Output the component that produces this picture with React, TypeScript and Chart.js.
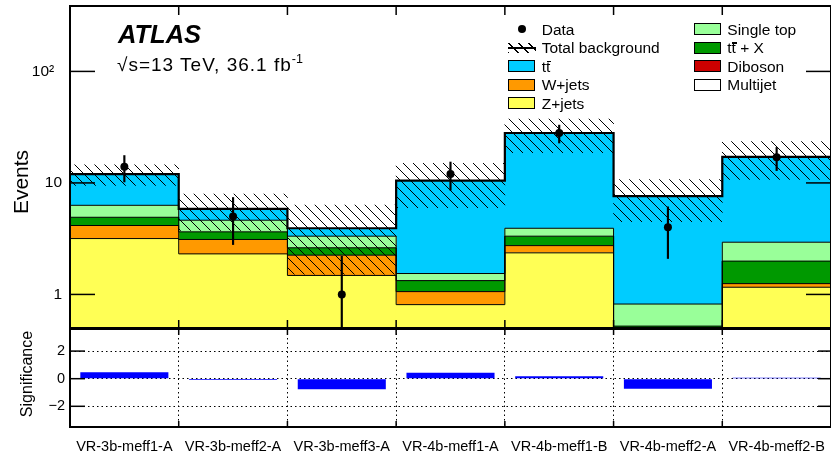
import React, { useEffect, useRef } from "react";
import { Chart, registerables } from "chart.js";

Chart.register(...registerables);

const FONT = '"Liberation Sans", Arial, Helvetica, sans-serif';
Chart.defaults.font.family = FONT;
Chart.defaults.color = "#000";

// ---------------- data ----------------
const REGIONS = [
  "VR-3b-meff1-A",
  "VR-3b-meff2-A",
  "VR-3b-meff3-A",
  "VR-4b-meff1-A",
  "VR-4b-meff1-B",
  "VR-4b-meff2-A",
  "VR-4b-meff2-B",
];

const DATA = [14, 5, 1, 12, 28, 4, 17];
const DATA_ERR_UP = [3.6, 2.4, 1.2, 3.4, 5.0, 2.1, 3.8];
const DATA_ERR_DOWN = [3.8, 2.2, 0.99, 3.4, 5.2, 1.9, 4.1];

// background contributions (stacked bottom -> top)
const MULTIJET = [0, 0, 0, 0, 0, 0, 0];
const ZJETS = [3.17, 2.31, 1.48, 0.81, 2.36, 0.45, 1.16];
const WJETS = [0.96, 0.79, 0.76, 0.24, 0.37, 0.03, 0.08];
const DIBOSON = [0.02, 0.01, 0.01, 0.01, 0.01, 0.0, 0.01];
const TTX = [0.77, 0.53, 0.37, 0.27, 0.59, 0.04, 0.74];
const SINGLE_TOP = [1.38, 0.99, 0.71, 0.21, 0.59, 0.3, 0.95];
const TTBAR = [5.7, 1.22, 0.59, 8.96, 24.1, 6.78, 14.2];

// total background uncertainty (symmetric)
const BKG_UNC = [2.5, 2.1, 2.4, 4.5, 9.3, 3.1, 6.4];

const SIGNIFICANCE = [0.46, -0.09, -0.77, 0.43, 0.17, -0.72, 0.07];

const Y_MAJOR_TICKS = [1, 10, 100];
const Y_MAJOR_LABELS = ["1", "10", "10\u00B2\u2002"];
const SIG_TICKS = [-2, 0, 2];
const SIG_TICK_LABELS = ["\u22122", "0", "2"];

const Y_MIN = 0.5;
const Y_MAX = 386;

// ---------------- styles ----------------
const COLORS = {
  multijet: "#ffffff",
  zjets: "#ffff55",
  wjets: "#ff9900",
  diboson: "#cc0000",
  ttx: "#009900",
  singletop: "#99ff99",
  ttbar: "#00ccff",
};

const LAYERS = [
  { label: "Multijet", data: MULTIJET, color: COLORS.multijet, contour: false },
  { label: "Z+jets", data: ZJETS, color: COLORS.zjets, contour: true },
  { label: "W+jets", data: WJETS, color: COLORS.wjets, contour: false },
  { label: "Diboson", data: DIBOSON, color: COLORS.diboson, contour: true },
  { label: "ttbar+X", data: TTX, color: COLORS.ttx, contour: true },
  { label: "Single top", data: SINGLE_TOP, color: COLORS.singletop, contour: true },
  { label: "ttbar", data: TTBAR, color: COLORS.ttbar, contour: false },
];

function makeHatch(): CanvasPattern | string {
  const c = document.createElement("canvas");
  c.width = 10;
  c.height = 10;
  const g = c.getContext("2d");
  if (!g) return "rgba(0,0,0,0.3)";
  g.strokeStyle = "#000";
  g.lineWidth = 1;
  g.beginPath();
  g.moveTo(-2, -2);
  g.lineTo(12, 12);
  g.moveTo(-2, 8);
  g.lineTo(2, 12);
  g.moveTo(8, -2);
  g.lineTo(12, 2);
  g.stroke();
  return g.createPattern(c, "repeat") || "rgba(0,0,0,0.3)";
}

function isIntMantissa(v: number) {
  if (v <= 0) return false;
  const e = Math.floor(Math.log10(v) + 1e-9);
  const m = v / Math.pow(10, e);
  return Math.abs(m - Math.round(m)) < 1e-6;
}
function isPow10(v: number) {
  const l = Math.log10(v);
  return Math.abs(l - Math.round(l)) < 1e-6;
}

function seg(ctx: CanvasRenderingContext2D, x1: number, y1: number, x2: number, y2: number) {
  ctx.beginPath();
  ctx.moveTo(x1, y1);
  ctx.lineTo(x2, y2);
  ctx.stroke();
}

const topFramePlugin = {
  id: "topFrame",
  afterDraw(chart: any) {
    const { ctx, chartArea: a, scales } = chart;
    const ys = scales.y;
    const xl = scales.xl;
    ctx.save();
    ctx.strokeStyle = "#000";
    ctx.lineWidth = 1.5;
    for (const t of ys.ticks) {
      const v = t.value;
      if (!isIntMantissa(v)) continue;
      const p = ys.getPixelForValue(v);
      if (p < a.top + 1 || p > a.bottom - 0.5) continue;
      const major = isPow10(v);
      seg(ctx, a.left, p, a.left + (major ? 25 : 12), p);
      seg(ctx, a.right, p, a.right - (major ? 25 : 12), p);
    }
    for (let i = 1; i < REGIONS.length; i++) {
      const px = xl.getPixelForValue(i);
      seg(ctx, px, a.top, px, a.top + 9);
      seg(ctx, px, a.bottom, px, a.bottom - 8);
    }
    ctx.lineWidth = 2;
    ctx.strokeRect(a.left, a.top, a.right - a.left, a.bottom - a.top);
    ctx.restore();
  },
};

const bottomFramePlugin = {
  id: "bottomFrame",
  afterDraw(chart: any) {
    const { ctx, chartArea: a, scales } = chart;
    const ys = scales.y;
    const xs = scales.x;
    ctx.save();
    ctx.strokeStyle = "#000";
    ctx.lineWidth = 1.5;
    for (const v of SIG_TICKS) {
      const p = ys.getPixelForValue(v);
      seg(ctx, a.left, p, a.left + 15, p);
      seg(ctx, a.right, p, a.right - 13, p);
    }
    const w = (a.right - a.left) / REGIONS.length;
    for (let i = 0; i < REGIONS.length - 1; i++) {
      const px = xs.getPixelForValue(i) + w / 2;
      seg(ctx, px, a.top, px, a.top + 6);
      seg(ctx, px, a.bottom, px, a.bottom - 6);
    }
    ctx.lineWidth = 2;
    ctx.strokeRect(a.left, a.top, a.right - a.left, a.bottom - a.top);
    ctx.restore();
  },
};

const fixVertical = (s: any) => {
  s.width = 70;
  s.paddingTop = 0;
  s.paddingBottom = 0;
};

function TBar() {
  return (
    <span style={{ position: "relative", display: "inline-block" }}>
      t
      <span
        style={{
          position: "absolute",
          left: 0.5,
          width: 4.5,
          top: 2,
          height: 1.4,
          background: "#000",
        }}
      />
    </span>
  );
}

export default function App() {
  const topRef = useRef<HTMLCanvasElement>(null);
  const botRef = useRef<HTMLCanvasElement>(null);

  useEffect(() => {
    if (!topRef.current || !botRef.current) return;
    const hatch = makeHatch();

    // cumulative sums for contours
    const cum: number[][] = [];
    let run = REGIONS.map(() => 0);
    for (const l of LAYERS) {
      run = run.map((r, i) => r + l.data[i]);
      cum.push(run.slice());
    }
    const total = cum[cum.length - 1];
    const toEdges = (vals: number[]) => [
      ...vals.map((v, i) => ({ x: i, y: v })),
      { x: vals.length, y: vals[vals.length - 1] },
    ];

    const stackDatasets = LAYERS.map((l) => ({
      type: "bar" as const,
      label: l.label,
      data: l.data,
      backgroundColor: l.color,
      borderWidth: 0,
      stack: "bkg",
      grouped: false,
      xAxisID: "x",
      yAxisID: "y",
      order: 10,
      barPercentage: 1.01,
      categoryPercentage: 1,
      clip: 0,
    }));

    const contourDatasets = LAYERS.map((l, k) => ({ l, k }))
      .filter(({ l }) => l.contour)
      .map(({ k }) => ({
        type: "line" as const,
        data: toEdges(cum[k]),
        xAxisID: "xl",
        yAxisID: "yh",
        stepped: true,
        borderColor: "#000",
        borderWidth: 1,
        pointRadius: 0,
        fill: false,
        order: 4,
        clip: 0,
      }));

    const top = new Chart(topRef.current, {
      data: {
        labels: REGIONS,
        datasets: [
          {
            type: "line",
            label: "Data",
            data: DATA,
            xAxisID: "x",
            yAxisID: "yh",
            showLine: false,
            pointRadius: 4,
            pointBackgroundColor: "#000",
            pointBorderColor: "#000",
            pointBorderWidth: 0,
            order: 0,
          },
          {
            type: "bar",
            label: "Data error",
            data: DATA.map((d, i) => [d - DATA_ERR_DOWN[i], d + DATA_ERR_UP[i]]),
            xAxisID: "x",
            yAxisID: "yh",
            grouped: false,
            barThickness: 1.5,
            backgroundColor: "#000",
            borderWidth: 0,
            order: 1,
            clip: 0,
          },
          {
            type: "line",
            label: "Total",
            data: toEdges(total),
            xAxisID: "xl",
            yAxisID: "yh",
            stepped: true,
            borderColor: "#000",
            borderWidth: 2.2,
            pointRadius: 0,
            fill: false,
            order: 2,
            clip: 0,
          },
          {
            type: "bar",
            label: "Total background",
            data: total.map((t, i) => [t - BKG_UNC[i], t + BKG_UNC[i]]),
            xAxisID: "x",
            yAxisID: "yh",
            grouped: false,
            barPercentage: 1,
            categoryPercentage: 1,
            backgroundColor: hatch,
            borderWidth: 0,
            order: 3,
            clip: 0,
          },
          ...contourDatasets,
          ...stackDatasets,
        ] as any,
      },
      options: {
        responsive: false,
        animation: false,
        events: [],
        layout: { padding: { top: 6, bottom: 2, left: 0, right: 0 }, autoPadding: false },
        plugins: { legend: { display: false }, tooltip: { enabled: false } },
        scales: {
          x: {
            type: "category",
            display: false,
            stacked: true,
            offset: true,
            grid: { display: false },
          },
          xl: { type: "linear", min: 0, max: REGIONS.length, display: false, offset: false },
          y: {
            type: "logarithmic",
            position: "left",
            min: Y_MIN,
            max: Y_MAX,
            stacked: true,
            grid: { display: false, drawTicks: false },
            border: { display: false },
            ticks: {
              autoSkip: false,
              padding: 8,
              font: { size: 15.5 },
              color: "#000",
              callback: (value: any) => {
                const v = Number(value);
                const idx = Y_MAJOR_TICKS.findIndex((m) => Math.abs(m - v) < 1e-6 * m);
                return idx >= 0 ? Y_MAJOR_LABELS[idx] : null;
              },
            },
            afterFit: fixVertical,
          },
          yh: { type: "logarithmic", min: Y_MIN, max: Y_MAX, display: false, stacked: false },
        } as any,
      },
      plugins: [topFramePlugin],
    });

    const bot = new Chart(botRef.current, {
      type: "bar",
      data: {
        labels: REGIONS,
        datasets: [
          {
            label: "Significance",
            data: SIGNIFICANCE,
            backgroundColor: "#0000ff",
            borderWidth: 0,
            barPercentage: 0.81,
            categoryPercentage: 1,
          },
        ],
      },
      options: {
        responsive: false,
        animation: false,
        events: [],
        layout: { padding: { top: 9, bottom: 0, left: 0, right: 0 }, autoPadding: false },
        plugins: { legend: { display: false }, tooltip: { enabled: false } },
        scales: {
          x: {
            offset: true,
            grid: { display: true, color: "#000", lineWidth: 1, drawTicks: false, offset: true },
            border: { display: false, dash: [1.5, 3] },
            ticks: {
              autoSkip: false,
              maxRotation: 0,
              minRotation: 0,
              padding: 11,
              font: { size: 14.5 },
              color: "#000",
            },
            afterFit: (s: any) => {
              s.height = 31;
              s.paddingLeft = 0;
              s.paddingRight = 0;
            },
          },
          y: {
            min: -3.5,
            max: 3.6,
            grid: { display: true, color: "#000", lineWidth: 1, drawTicks: false },
            border: { display: false, dash: [1.5, 3] },
            afterBuildTicks: (s: any) => {
              s.ticks = SIG_TICKS.map((v) => ({ value: v }));
            },
            ticks: {
              padding: 5,
              font: { size: 14.5 },
              color: "#000",
              callback: (value: any) => {
                const idx = SIG_TICKS.indexOf(Number(value));
                return idx >= 0 ? SIG_TICK_LABELS[idx] : null;
              },
            },
            afterFit: fixVertical,
          },
        } as any,
      },
      plugins: [bottomFramePlugin],
    });

    return () => {
      top.destroy();
      bot.destroy();
    };
  }, []);

  const legendRowY = (i: number) => 29.3 + i * 18.5;
  const LEG_FS = 15.5;
  const textTop = (yc: number) => yc - 0.4885 * LEG_FS;

  const ttbarText = (
    <span>
      t<TBar />
    </span>
  );

  const box = (x: number, yc: number, color: string) => (
    <div
      style={{
        position: "absolute",
        left: x,
        top: yc - 6,
        width: 27,
        height: 12,
        background: color,
        border: "1px solid #000",
        boxSizing: "border-box",
      }}
    />
  );
  const label = (x: number, yc: number, content: React.ReactNode) => (
    <div
      style={{
        position: "absolute",
        left: x,
        top: textTop(yc),
        fontSize: LEG_FS,
        lineHeight: `${LEG_FS}px`,
        whiteSpace: "nowrap",
        color: "#000",
      }}
    >
      {content}
    </div>
  );

  const C1_BOX = 508;
  const C1_TXT = 541.7;
  const C2_BOX = 694.3;
  const C2_TXT = 727.3;

  return (
    <div
      style={{
        position: "absolute",
        left: 0,
        top: 0,
        width: 831,
        height: 458,
        background: "#fff",
        overflow: "hidden",
        fontFamily: FONT,
      }}
    >
      <canvas
        ref={topRef}
        width={831}
        height={330}
        style={{ position: "absolute", left: 0, top: 0, width: 831, height: 330 }}
      />
      <canvas
        ref={botRef}
        width={831}
        height={138}
        style={{ position: "absolute", left: 0, top: 320, width: 831, height: 138 }}
      />

      {/* ATLAS label */}
      <div
        style={{
          position: "absolute",
          left: 118,
          top: 21.7,
          fontSize: 25.5,
          lineHeight: "25.5px",
          fontWeight: "bold",
          fontStyle: "italic",
          whiteSpace: "nowrap",
        }}
      >
        ATLAS
      </div>
      <div
        style={{
          position: "absolute",
          left: 117,
          top: 54.9,
          fontSize: 19,
          lineHeight: "19px",
          letterSpacing: "1px",
          whiteSpace: "nowrap",
        }}
      >
        {"\u221As=13 TeV, 36.1 fb"}
        <span style={{ fontSize: 12.5, position: "relative", top: -8, letterSpacing: 0 }}>-1</span>
      </div>

      {/* axis titles */}
      <div
        style={{
          position: "absolute",
          left: 20,
          top: 182,
          fontSize: 21,
          lineHeight: "21px",
          whiteSpace: "nowrap",
          transform: "translate(-50%, -50%) rotate(-90deg)",
        }}
      >
        Events
      </div>
      <div
        style={{
          position: "absolute",
          left: 27,
          top: 374,
          fontSize: 16,
          lineHeight: "16px",
          whiteSpace: "nowrap",
          transform: "translate(-50%, -50%) rotate(-90deg)",
        }}
      >
        Significance
      </div>

      {/* legend column 1 */}
      <div
        style={{
          position: "absolute",
          left: 517.7,
          top: legendRowY(0) - 4,
          width: 8,
          height: 8,
          borderRadius: "50%",
          background: "#000",
        }}
      />
      {label(C1_TXT, legendRowY(0), "Data")}
      <div
        style={{
          position: "absolute",
          left: C1_BOX,
          top: legendRowY(1) - 5,
          width: 28,
          height: 10,
          background:
            "repeating-linear-gradient(45deg, #000 0px, #000 1px, transparent 1px, transparent 7px)",
        }}
      />
      <div
        style={{
          position: "absolute",
          left: C1_BOX,
          top: legendRowY(1) - 1,
          width: 28,
          height: 2,
          background: "#000",
        }}
      />
      {label(C1_TXT, legendRowY(1), "Total background")}
      {box(C1_BOX, legendRowY(2), COLORS.ttbar)}
      {label(C1_TXT, legendRowY(2), ttbarText)}
      {box(C1_BOX, legendRowY(3), COLORS.wjets)}
      {label(C1_TXT, legendRowY(3), "W+jets")}
      {box(C1_BOX, legendRowY(4), COLORS.zjets)}
      {label(C1_TXT, legendRowY(4), "Z+jets")}

      {/* legend column 2 */}
      {box(C2_BOX, legendRowY(0), COLORS.singletop)}
      {label(C2_TXT, legendRowY(0), "Single top")}
      {box(C2_BOX, legendRowY(1), COLORS.ttx)}
      {label(C2_TXT, legendRowY(1), <span>{ttbarText} + X</span>)}
      {box(C2_BOX, legendRowY(2), COLORS.diboson)}
      {label(C2_TXT, legendRowY(2), "Diboson")}
      {box(C2_BOX, legendRowY(3), COLORS.multijet)}
      {label(C2_TXT, legendRowY(3), "Multijet")}
    </div>
  );
}
